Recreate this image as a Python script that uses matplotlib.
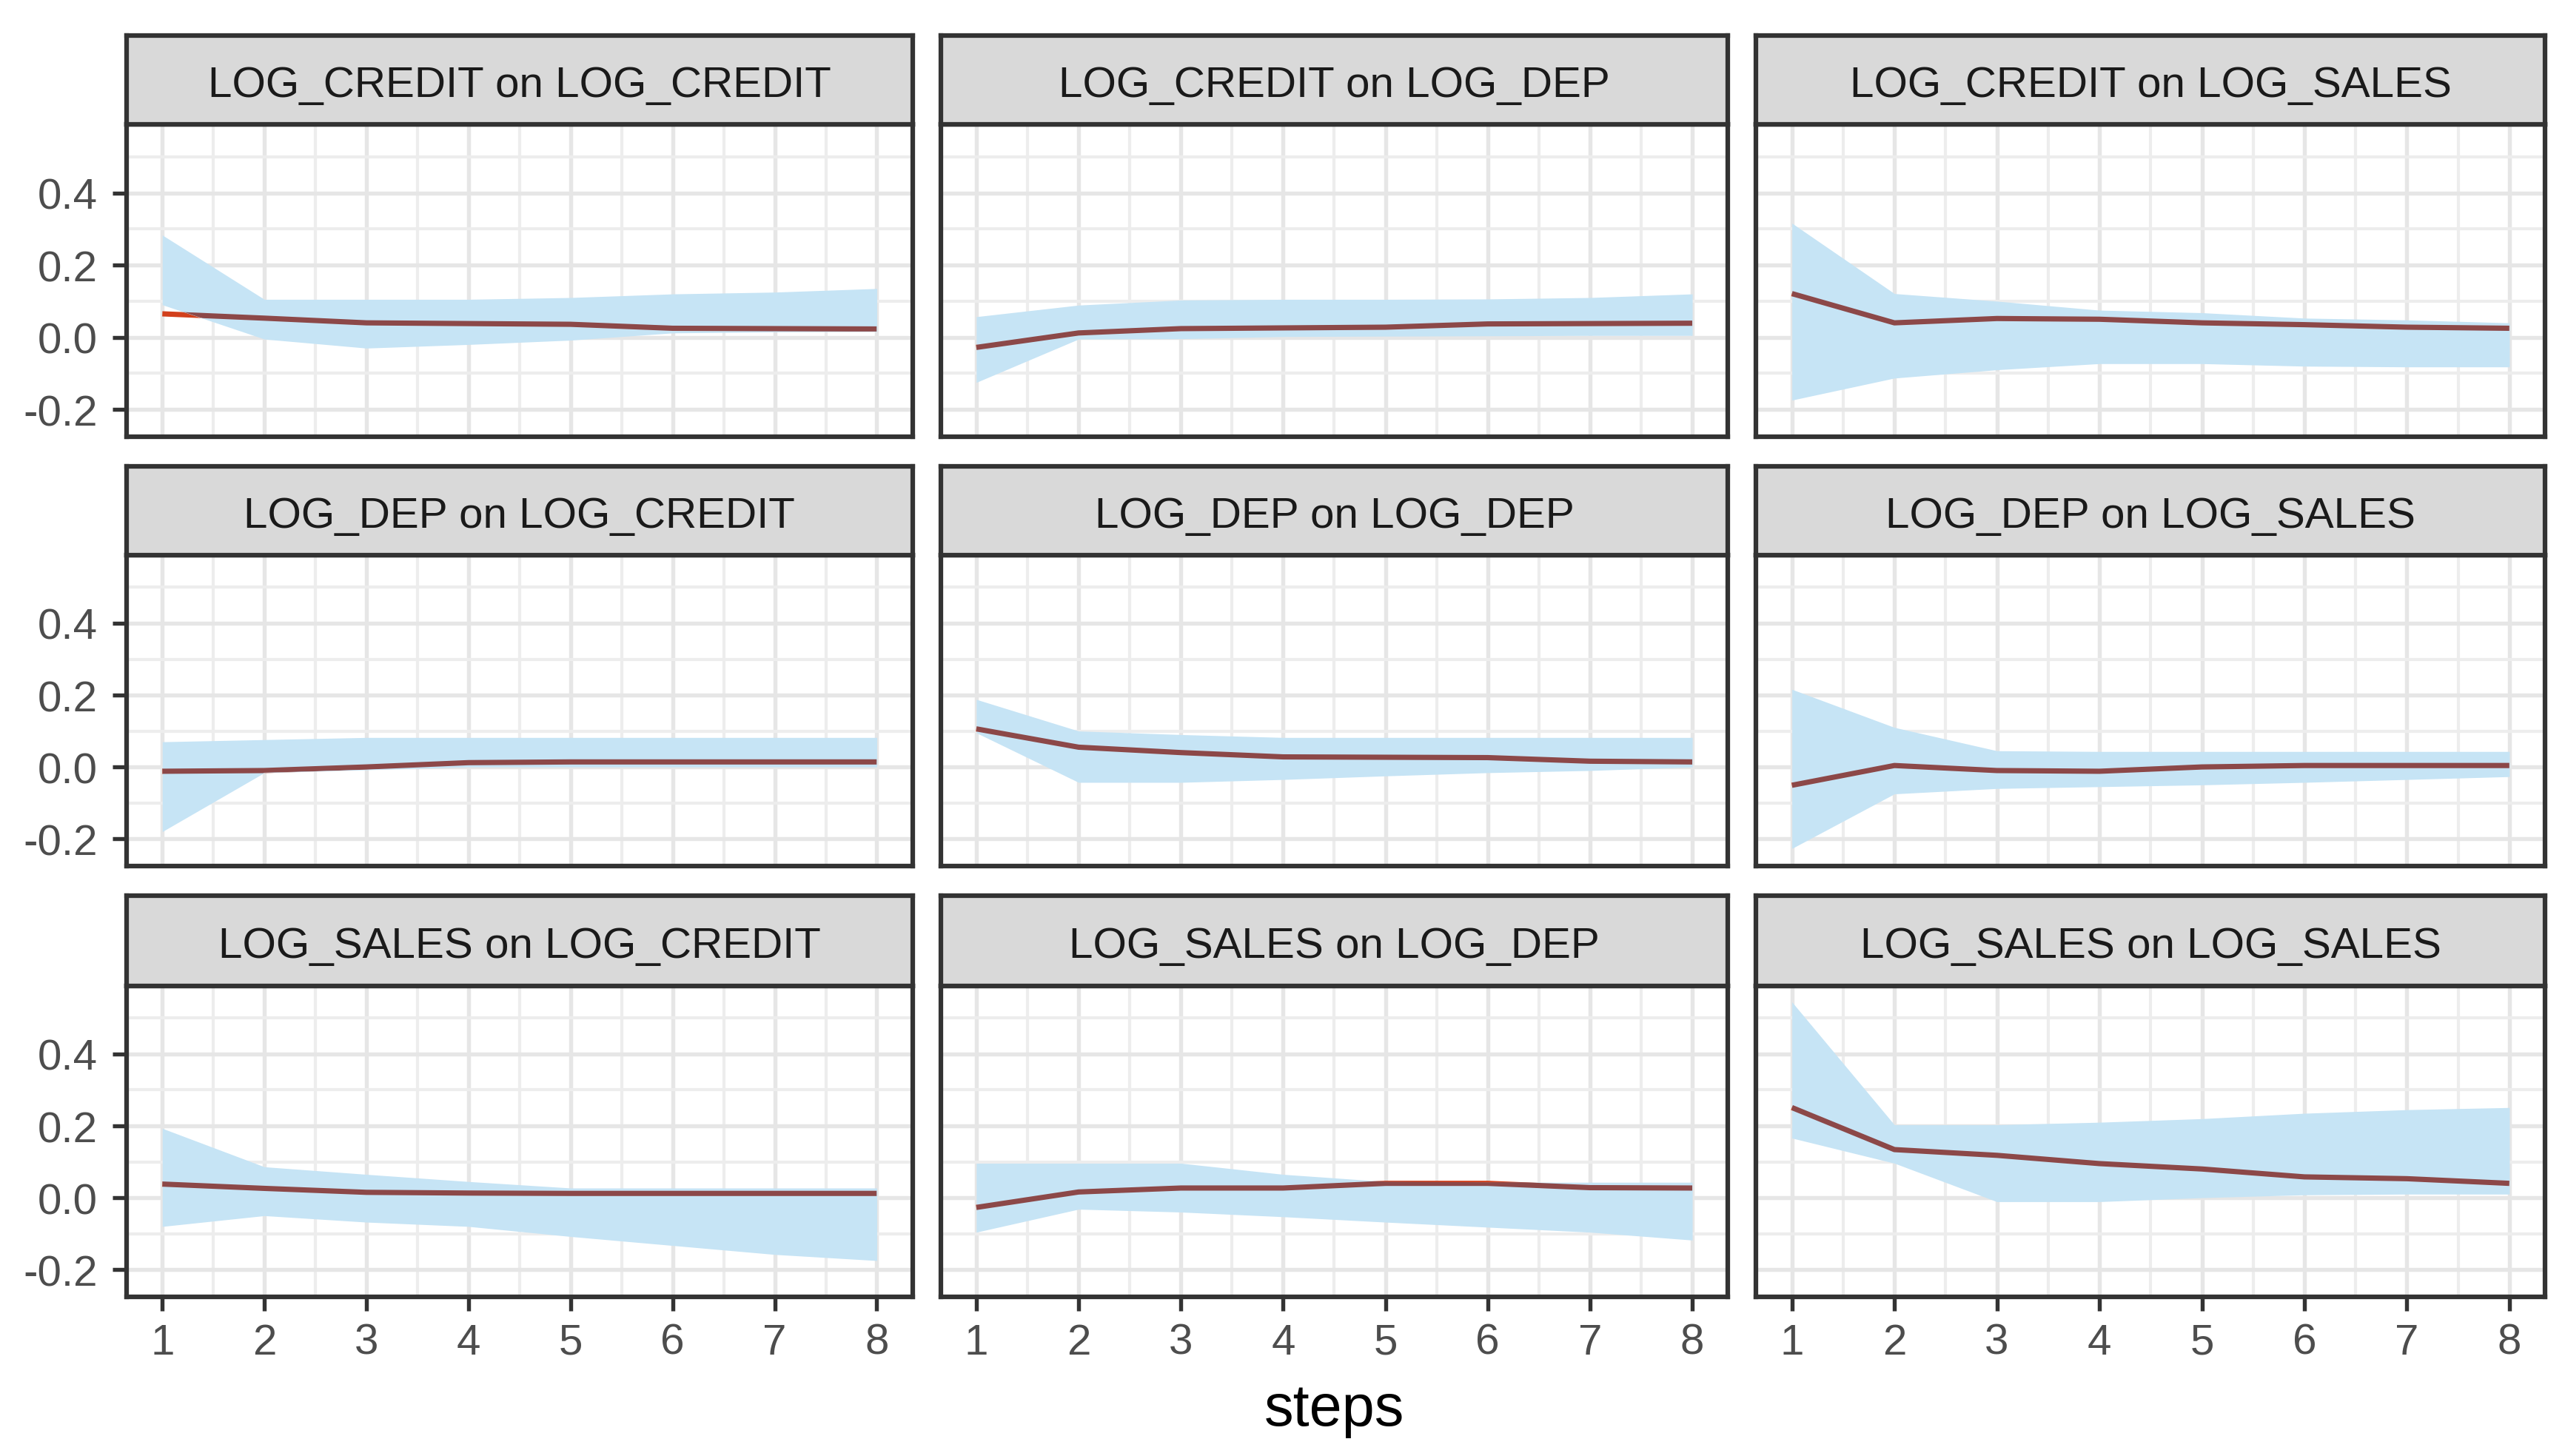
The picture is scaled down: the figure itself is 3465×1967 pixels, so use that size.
import matplotlib
matplotlib.use("Agg")
import matplotlib.pyplot as plt
import numpy as np

plt.rcParams['font.family'] = ['Liberation Sans', 'DejaVu Sans']

steps = [1, 2, 3, 4, 5, 6, 7, 8]

titles = [
    "LOG_CREDIT on LOG_CREDIT", "LOG_CREDIT on LOG_DEP", "LOG_CREDIT on LOG_SALES",
    "LOG_DEP on LOG_CREDIT", "LOG_DEP on LOG_DEP", "LOG_DEP on LOG_SALES",
    "LOG_SALES on LOG_CREDIT", "LOG_SALES on LOG_DEP", "LOG_SALES on LOG_SALES",
]

# impulse response (point estimate) per panel
irf = [
    [0.065, 0.053, 0.040, 0.038, 0.036, 0.025, 0.024, 0.023],
    [-0.028, 0.012, 0.024, 0.026, 0.028, 0.037, 0.038, 0.039],
    [0.121, 0.040, 0.052, 0.050, 0.040, 0.035, 0.028, 0.025],
    [-0.012, -0.010, 0.000, 0.012, 0.014, 0.014, 0.014, 0.014],
    [0.106, 0.055, 0.040, 0.028, 0.027, 0.026, 0.016, 0.014],
    [-0.051, 0.004, -0.010, -0.012, 0.000, 0.004, 0.004, 0.004],
    [0.038, 0.026, 0.015, 0.013, 0.012, 0.012, 0.012, 0.012],
    [-0.027, 0.016, 0.027, 0.027, 0.040, 0.040, 0.028, 0.027],
    [0.251, 0.134, 0.118, 0.095, 0.080, 0.058, 0.053, 0.040],
]

# lower bound of the confidence band
lower = [
    [0.090, -0.005, -0.030, -0.020, -0.008, 0.012, 0.015, 0.016],
    [-0.125, -0.005, -0.004, 0.002, 0.003, 0.004, 0.005, 0.005],
    [-0.174, -0.113, -0.090, -0.073, -0.073, -0.080, -0.082, -0.082],
    [-0.180, -0.016, -0.008, 0.000, 0.000, 0.000, 0.000, 0.000],
    [0.095, -0.043, -0.043, -0.035, -0.025, -0.016, -0.010, 0.000],
    [-0.227, -0.075, -0.060, -0.055, -0.050, -0.043, -0.035, -0.027],
    [-0.080, -0.050, -0.068, -0.080, -0.108, -0.133, -0.158, -0.175],
    [-0.096, -0.032, -0.040, -0.053, -0.068, -0.082, -0.096, -0.118],
    [0.166, 0.096, -0.011, -0.011, 0.000, 0.008, 0.010, 0.010],
]

# upper bound of the confidence band
upper = [
    [0.283, 0.105, 0.105, 0.105, 0.110, 0.120, 0.125, 0.135],
    [0.057, 0.089, 0.103, 0.105, 0.105, 0.106, 0.110, 0.120],
    [0.316, 0.121, 0.100, 0.075, 0.068, 0.053, 0.048, 0.040],
    [0.070, 0.076, 0.082, 0.082, 0.082, 0.082, 0.082, 0.082],
    [0.188, 0.100, 0.090, 0.082, 0.082, 0.082, 0.082, 0.082],
    [0.216, 0.110, 0.045, 0.043, 0.043, 0.043, 0.043, 0.043],
    [0.193, 0.086, 0.065, 0.045, 0.027, 0.027, 0.027, 0.027],
    [0.096, 0.096, 0.096, 0.065, 0.045, 0.043, 0.043, 0.043],
    [0.545, 0.203, 0.203, 0.210, 0.220, 0.235, 0.245, 0.251],
]

yticks = [-0.2, 0.0, 0.2, 0.4]
ytick_labels = ["-0.2", "0.0", "0.2", "0.4"]

W, H = 3465, 1968
fig = plt.figure(figsize=(W / 300, H / 300), dpi=300)

col_x = [(77, 555), (572, 1051), (1068, 1548)]
row_y = [(22, 76, 266), (284, 338, 527), (545, 600, 789)]
dw, dh = 1560.0, 886.0

ribbon_col = "#C6E4F5"
red_col = "#D2401C"
brown_col = "#8C4848"
border_col = "#333333"

for i in range(9):
    r, c = divmod(i, 3)
    x0, x1 = col_x[c]
    st, sb, pb = row_y[r]
    left = x0 / dw
    width = (x1 - x0) / dw
    ax = fig.add_axes([left, 1 - pb / dh, width, (pb - sb) / dh])
    sax = fig.add_axes([left, 1 - sb / dh, width, (sb - st) / dh])

    x = np.array(steps)
    # red line underneath, brown copy only where the ribbon covers it
    ax.plot(x, irf[i], color=red_col, lw=1.7, zorder=2, solid_capstyle='butt')
    poly = ax.fill_between(x, lower[i], upper[i], color=ribbon_col, lw=0, zorder=3)
    ln, = ax.plot(x, irf[i], color=brown_col, lw=1.7, zorder=4, solid_capstyle='butt')
    ln.set_clip_path(poly.get_paths()[0], ax.transData)

    ax.set_xlim(0.65, 8.35)
    ax.set_ylim(-0.275, 0.59)
    ax.set_xticks(steps)
    ax.set_xticks(np.arange(1.5, 8, 1), minor=True)
    ax.set_yticks(yticks)
    ax.set_yticks([-0.1, 0.1, 0.3, 0.5], minor=True)
    ax.grid(True, which='major', color='#E6E6E6', lw=1.3, zorder=0)
    ax.grid(True, which='minor', color='#EDEDED', lw=1.0, zorder=0)
    ax.set_axisbelow(True)
    for sp in ax.spines.values():
        sp.set_color(border_col)
        sp.set_linewidth(1.5)
    ax.tick_params(which='minor', length=0)
    ax.tick_params(which='major', length=4.5, width=1.3, color=border_col,
                   labelsize=14, labelcolor='#4D4D4D', pad=5)
    if c == 0:
        ax.set_yticklabels(ytick_labels)
    else:
        ax.tick_params(axis='y', which='major', length=0, labelleft=False)
    if r == 2:
        ax.set_xticklabels([str(s) for s in steps])
        ax.tick_params(axis='x', pad=4)
    else:
        ax.tick_params(axis='x', which='major', length=0, labelbottom=False)

    sax.set_facecolor('#D9D9D9')
    sax.set_xticks([])
    sax.set_yticks([])
    for sp in sax.spines.values():
        sp.set_color(border_col)
        sp.set_linewidth(1.5)
    sax.text(0.5, 0.44, titles[i], ha='center', va='center', fontsize=14,
             color='#1A1A1A', transform=sax.transAxes)

fig.text((572 + 1051) / 2 / dw, 1 - 858 / dh, "steps", ha='center', va='center',
         fontsize=19, color='black')

fig.savefig("out.png", dpi=300, facecolor='white')
